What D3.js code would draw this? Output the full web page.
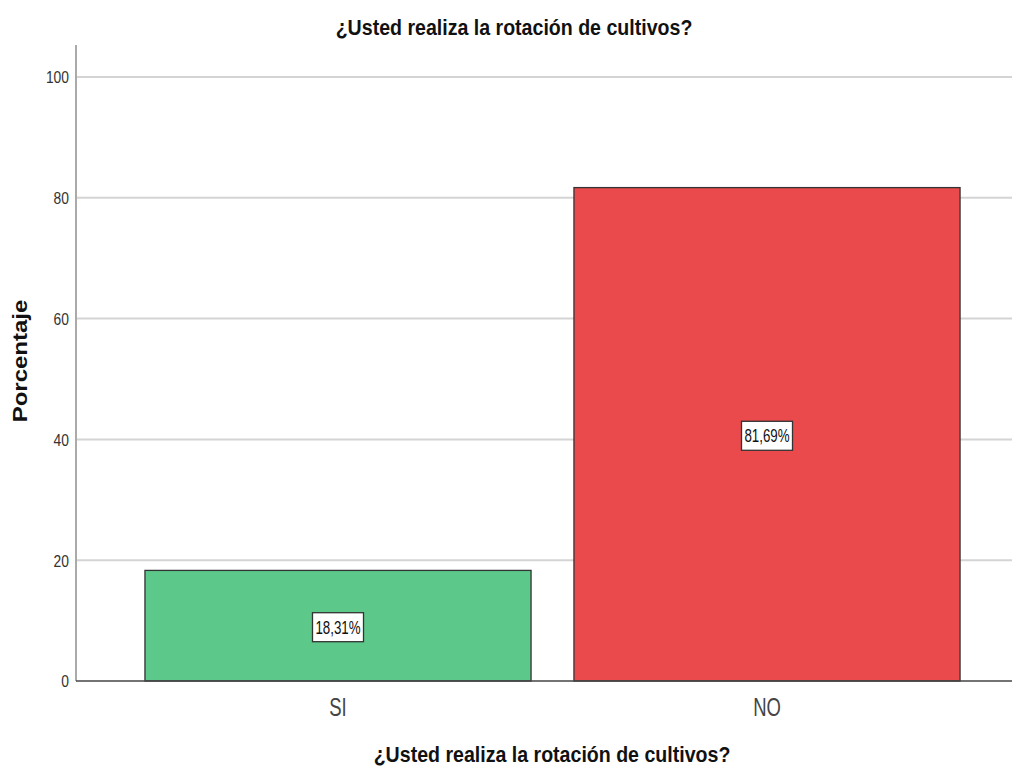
<!DOCTYPE html>
<html><head><meta charset="utf-8">
<script src="https://cdn.jsdelivr.net/npm/d3@7"></script>
<style>
html,body{margin:0;padding:0;background:#fff;}
svg{display:block;}
text{font-family:"Liberation Sans",Arial,sans-serif;}
</style>
</head><body>
<svg id="c" width="1014" height="772"></svg>
<script>
const categories = ["SI", "NO"];
const values = [18.31, 81.69];
const valueLabels = ["18,31%", "81,69%"];
const colors = ["#5cc98b", "#ea4a4b"];
const yTicks = [0, 20, 40, 60, 80, 100];
const title = "¿Usted realiza la rotación de cultivos?";
const xTitle = "¿Usted realiza la rotación de cultivos?";
const yTitle = "Porcentaje";

(function () {
const svg = d3.select("#c");
const mLeft = 76, mRight = 1012, mTop = 45, mBottom = 681;

const y = d3.scaleLinear().domain([0, 100]).range([mBottom, 77]);
const x = d3.scaleBand().domain(categories).range([123.5, 981.5]).paddingInner(0.1).paddingOuter(0.05);

// gridlines
svg.append("g").selectAll("line").data(yTicks.filter(d => d > 0)).join("line")
  .attr("x1", mLeft).attr("x2", mRight)
  .attr("y1", d => y(d)).attr("y2", d => y(d))
  .attr("stroke", "#d4d4d4").attr("stroke-width", 2);

// y axis
const yAxis = svg.append("g").attr("transform", `translate(${mLeft},0)`)
  .call(d3.axisLeft(y).tickValues(yTicks).tickSize(0).tickPadding(7));
yAxis.select(".domain").remove();
yAxis.selectAll("text")
  .attr("x", -7 / 0.84).attr("dy", "0.36em")
  .attr("transform", "scale(0.84,1)")
  .attr("font-size", 16.5).attr("fill", "#333").attr("font-family", "'Liberation Sans',Arial,sans-serif");
svg.append("line").attr("x1", mLeft).attr("x2", mLeft).attr("y1", mTop).attr("y2", mBottom)
  .attr("stroke", "#aaa").attr("stroke-width", 2);

// bars
svg.append("g").selectAll("rect").data(categories).join("rect")
  .attr("x", d => x(d)).attr("width", x.bandwidth())
  .attr("y", (d, i) => y(values[i])).attr("height", (d, i) => mBottom - y(values[i]))
  .attr("fill", (d, i) => colors[i]).attr("stroke", "#333").attr("stroke-width", 1.3);

// x axis baseline
svg.append("line").attr("x1", mLeft).attr("x2", mRight).attr("y1", mBottom).attr("y2", mBottom)
  .attr("stroke", "#444").attr("stroke-width", 1.5);

const xAxis = svg.append("g").attr("transform", `translate(0,${mBottom})`)
  .call(d3.axisBottom(x).tickSize(0).tickPadding(0));
xAxis.select(".domain").remove();
xAxis.selectAll("text")
  .attr("y", 35).attr("dy", 0)
  .attr("transform", "scale(0.74,1)")
  .attr("font-size", 25).attr("fill", "#444").attr("font-family", "'Liberation Sans',Arial,sans-serif");

// value labels
const lab = svg.append("g").selectAll("g").data(categories).join("g")
  .attr("transform", (d, i) => `translate(${x(d) + x.bandwidth() / 2},${(y(values[i]) + mBottom) / 2 + 1.5})`);
lab.append("rect").attr("x", -25.5).attr("y", -14.5).attr("width", 51).attr("height", 29)
  .attr("fill", "#fff").attr("stroke", "#333").attr("stroke-width", 1.3);
lab.append("text").attr("text-anchor", "middle").attr("y", 6.5)
  .attr("transform", "scale(0.72,1)")
  .attr("font-size", 18.5).attr("fill", "#111").text((d, i) => valueLabels[i]);

// titles
svg.append("text").attr("transform", "translate(514,35) scale(0.89,1)").attr("text-anchor", "middle")
  .attr("font-size", 22).attr("font-weight", "bold").attr("fill", "#111").text(title);
svg.append("text").attr("transform", "translate(552,762) scale(0.89,1)").attr("text-anchor", "middle")
  .attr("font-size", 22).attr("font-weight", "bold").attr("fill", "#111").text(xTitle);
svg.append("text").attr("transform", "translate(27,361) rotate(-90) scale(1.2,1)").attr("text-anchor", "middle")
  .attr("font-size", 20).attr("font-weight", "bold").attr("fill", "#111").text(yTitle);
})();
</script>
</body></html>
